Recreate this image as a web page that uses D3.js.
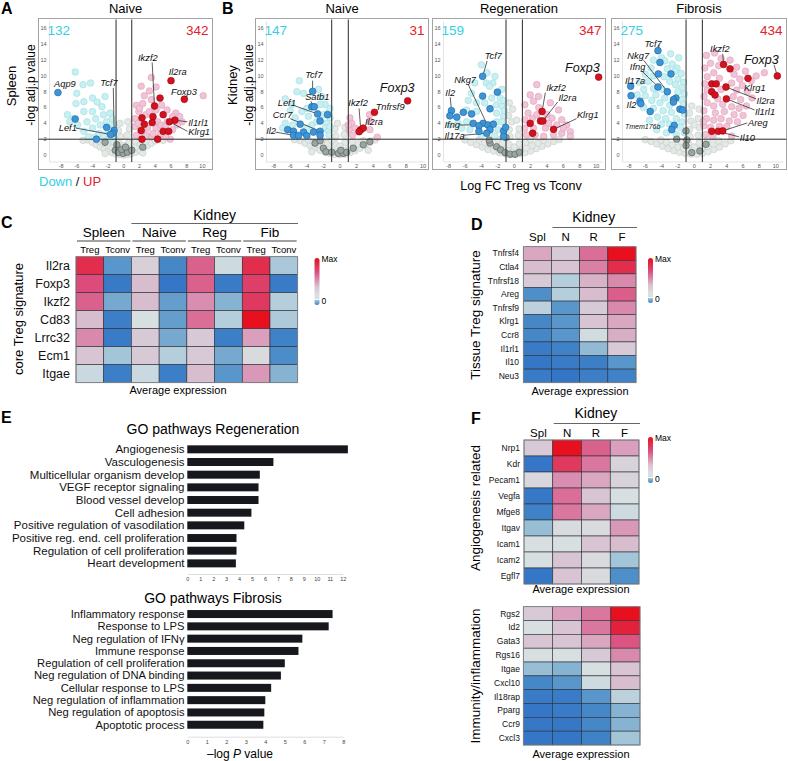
<!DOCTYPE html>
<html>
<head>
<meta charset="utf-8">
<script src="https://cdn.jsdelivr.net/npm/d3@7"></script>
<style>
  body { margin: 0; background: #fff; }
  svg { display: block; font-family: "Liberation Sans", Arial, Helvetica, sans-serif; }
</style>
</head>
<body>
<script>
// ---- volcano data: [logFC, -log adj p, group]
// g = not significant, d = dark grey, c = down, p = up, b = down highlighted, r = up highlighted
const spleenNaive = [
  [-4.6,1.9,"g"],[-4.0,1.6,"g"],[-3.5,1.3,"g"],[-3.0,1.0,"g"],[-2.5,0.7,"g"],[-2.0,0.5,"g"],[-1.5,0.3,"g"],[-1.0,0.15,"g"],
  [-0.5,0.05,"g"],[0,0,"g"],[0.5,0.05,"g"],[1.0,0.2,"g"],[1.5,0.35,"g"],[2.0,0.6,"g"],[2.5,0.9,"g"],[3.0,1.2,"g"],[3.5,1.5,"g"],
  [4.0,1.8,"g"],[-3.2,1.8,"g"],[-2.6,1.5,"g"],[-2.0,1.2,"g"],[-1.5,0.9,"g"],[-1.0,0.7,"g"],[-0.5,0.6,"g"],[0.3,0.5,"g"],
  [0.9,0.8,"g"],[1.5,1.0,"g"],[2.1,1.3,"g"],[2.7,1.7,"g"],[-1.3,1.7,"g"],[1.4,1.8,"g"],[-0.6,1.4,"g"],[0.6,1.5,"g"],
  [-0.4,2.3,"g"],[0.4,2.5,"g"],[-0.7,3.1,"g"],[0.7,3.3,"g"],[-0.5,4.0,"g"],[0.5,4.2,"g"],[0,1.2,"g"],[-2.4,0.2,"g"],
  [2.4,0.25,"g"],[-5.2,1.85,"g"],[5.0,1.85,"g"],
  [-6.2,10.5,"c"],[-5.2,8.9,"c"],[-4.25,9.1,"c"],[-6.0,7.8,"c"],[-7.2,5.1,"c"],[-6.1,6.5,"c"],[-5.1,6.75,"c"],[-4.0,7.2,"c"],
  [-3.4,6.7,"c"],[-2.4,7.4,"c"],[-2.8,6.1,"c"],[-4.0,5.5,"c"],[-5.1,5.5,"c"],[-6.4,4.6,"c"],[-6.9,4.2,"c"],[-5.9,3.8,"c"],
  [-4.7,4.2,"c"],[-3.6,4.6,"c"],[-2.6,5.1,"c"],[-1.75,5.3,"c"],[-1.5,4.6,"c"],[-2.2,4.2,"c"],[-3.0,3.8,"c"],[-4.0,3.4,"c"],
  [-5.1,3.0,"c"],[-1.3,3.8,"c"],[-2.0,3.2,"c"],[-3.2,2.7,"c"],[-4.5,2.3,"c"],[-1.3,2.7,"c"],[-2.6,2.5,"c"],[-1.2,2.2,"c"],
  [-1.8,2.1,"c"],[-3.8,2.2,"c"],
  [3.5,9.8,"p"],[2.2,8.7,"p"],[2.6,7.5,"p"],[1.6,6.3,"p"],[1.9,5.5,"p"],[3.25,8.1,"p"],[4.1,8.6,"p"],[4.8,6.3,"p"],
  [5.5,5.7,"p"],[6.6,5.3,"p"],[7.1,4.85,"p"],[10.1,7.5,"p"],[7.4,4.2,"p"],[6.8,3.8,"p"],[6.2,3.2,"p"],[5.9,2.0,"p"],
  [5.3,2.3,"p"],[4.5,2.3,"p"],[3.5,2.3,"p"],[2.8,2.5,"p"],[1.6,2.5,"p"],[1.4,3.6,"p"],[1.4,4.6,"p"],[1.8,4.0,"p"],
  [2.8,5.1,"p"],[3.25,5.5,"p"],[4.1,5.7,"p"],[4.3,4.2,"p"],[3.0,3.4,"p"],[4.1,3.4,"p"],[4.7,3.8,"p"],[5.5,4.2,"p"],
  [5.25,3.6,"p"],[6.2,4.85,"p"],[2.0,5.9,"p"],[2.4,6.5,"p"],[3.5,7.0,"p"],[2.3,3.0,"p"],[3.7,2.7,"p"],[4.7,2.7,"p"],
  [-2.4,1.6,"d"],[-0.9,1.3,"d"],[-1.1,0.6,"d"],[-0.7,0.3,"d"],[-0.1,0.2,"d"],[0.45,0.35,"d"],[1.0,0.6,"d"],[2.4,1.0,"d"],
  [-0.3,0.7,"d"],[0.2,1.0,"d"],
  [-8.4,7.9,"b"],[-6.2,4.55,"b"],[-2.2,3.5,"b"],[-1.25,3.1,"b"],[-1.4,2.75,"b"],[-1.7,2.6,"b"],[-3.5,2.0,"b"],
  [3.9,6.2,"r"],[6.0,9.4,"r"],[7.7,7.05,"r"],[4.6,7.2,"r"],[6.5,4.4,"r"],[5.8,4.2,"r"],[2.3,4.7,"r"],[3.7,4.85,"r"],
  [2.6,3.9,"r"],[3.6,4.1,"r"],[5.0,5.1,"r"],[2.2,3.1,"r"],[5.0,3.0,"r"],[5.7,3.0,"r"],[2.3,2.0,"r"],[4.3,2.0,"r"]
];

const kidneyNaive = [
  [-5.5,1.95,"g"],[-4.8,1.8,"g"],[-4.2,1.5,"g"],[-3.6,1.2,"g"],[-3.0,0.9,"g"],[-2.4,0.6,"g"],[-1.8,0.4,"g"],[-1.2,0.2,"g"],
  [-0.6,0.1,"g"],[0,0.05,"g"],[0.6,0.1,"g"],[1.2,0.3,"g"],[1.8,0.55,"g"],[2.4,0.85,"g"],[3.0,1.2,"g"],[3.6,1.6,"g"],
  [4.2,1.9,"g"],[-3.8,1.9,"g"],[-3.2,1.6,"g"],[-2.6,1.3,"g"],[-2.0,1.0,"g"],[-1.4,0.8,"g"],[-0.8,0.6,"g"],[-0.2,0.5,"g"],
  [0.4,0.6,"g"],[1.0,0.8,"g"],[1.6,1.1,"g"],[2.2,1.4,"g"],[2.8,1.8,"g"],[-2.2,1.9,"g"],[-1.5,1.5,"g"],[1.5,1.7,"g"],
  [-0.6,1.5,"g"],[0.6,1.6,"g"],[0,1.1,"g"],[-0.5,2.4,"g"],[0.5,2.6,"g"],[-0.6,3.3,"g"],[0.6,3.5,"g"],[-0.3,4.0,"g"],
  [-1.0,1.8,"g"],[3.4,0.6,"g"],[-3.4,0.4,"g"],
  [-4.9,9.4,"c"],[-5.2,8.0,"c"],[-4.4,7.8,"c"],[-2.6,8.3,"c"],[-2.2,7.4,"c"],[-1.8,6.4,"c"],[-2.4,6.4,"c"],[-6.6,7.1,"c"],
  [-5.8,6.4,"c"],[-6.0,5.6,"c"],[-4.6,5.5,"c"],[-4.0,5.9,"c"],[-3.8,4.9,"c"],[-5.4,4.7,"c"],[-6.6,4.0,"c"],[-5.7,3.8,"c"],
  [-1.6,4.0,"c"],[-1.8,3.4,"c"],[-1.4,3.0,"c"],[-1.2,3.6,"c"],[-2.0,5.1,"c"],[-2.8,4.2,"c"],[-3.4,3.8,"c"],[-4.0,3.4,"c"],
  [-1.3,2.5,"c"],[-6.9,3.4,"c"],[-1.4,5.3,"c"],[-1.2,4.7,"c"],[-1.2,5.9,"c"],
  [1.2,4.7,"p"],[1.4,4.0,"p"],[1.8,3.4,"p"],[1.1,3.2,"p"],[3.55,5.1,"p"],[3.6,4.3,"p"],[4.5,2.25,"p"],[3.6,3.2,"p"],
  [1.5,2.5,"p"],[1.0,3.8,"p"],
  [-3.0,1.5,"d"],[-2.0,0.85,"d"],[-1.7,0.4,"d"],[-1.0,0.35,"d"],[-0.2,0.2,"d"],[0.4,0.2,"d"],[0.8,0.35,"d"],[1.6,0.85,"d"],
  [2.8,1.3,"d"],[3.6,1.7,"d"],[-2.4,1.8,"d"],[0.1,0.6,"d"],
  [-3.3,8.05,"b"],[-3.4,6.1,"b"],[-3.1,6.1,"b"],[-2.7,5.2,"b"],[-1.5,5.1,"b"],[-2.4,4.3,"b"],[-4.8,3.9,"b"],[-6.3,3.2,"b"],
  [-5.6,3.0,"b"],[-4.4,2.9,"b"],[-3.2,2.9,"b"],[-2.4,3.0,"b"],[-2.4,2.5,"b"],[-5.6,2.5,"b"],[-5.0,2.45,"b"],[-4.0,2.45,"b"],
  [2.5,3.2,"r"],[2.8,3.4,"r"],[2.3,2.95,"r"],[4.15,5.4,"r"],[8.15,6.85,"r"]
];

const kidneyReg = [
  [-6.0,1.9,"g"],[-5.3,1.6,"g"],[-4.6,1.3,"g"],[-3.9,1.0,"g"],[-3.2,0.7,"g"],[-2.5,0.5,"g"],[-1.8,0.3,"g"],[-1.1,0.15,"g"],
  [-0.5,0.05,"g"],[0.1,0.05,"g"],[0.7,0.15,"g"],[1.3,0.3,"g"],[2.0,0.5,"g"],[2.7,0.8,"g"],[3.4,1.1,"g"],[4.1,1.4,"g"],
  [4.8,1.7,"g"],[5.5,1.95,"g"],[-4.3,1.9,"g"],[-3.6,1.6,"g"],[-2.9,1.3,"g"],[-2.2,1.0,"g"],[-1.5,0.8,"g"],[-0.8,0.6,"g"],
  [0,0.5,"g"],[0.8,0.7,"g"],[1.5,0.9,"g"],[2.2,1.2,"g"],[2.9,1.5,"g"],[3.6,1.85,"g"],[-2.0,1.9,"g"],[-1.4,1.5,"g"],
  [1.4,1.6,"g"],[2.0,1.95,"g"],[-0.6,1.3,"g"],[0.6,1.4,"g"],[-0.5,2.3,"g"],[0.5,2.5,"g"],[-0.6,3.2,"g"],[0.6,3.3,"g"],
  [-0.3,4.2,"g"],[0.3,4.4,"g"],[-0.7,5.0,"g"],[-0.2,5.8,"g"],[-0.6,6.6,"g"],[0,1.0,"g"],
  [-4.0,11.4,"c"],[-3.3,10.4,"c"],[-2.35,9.95,"c"],[-3.4,9.1,"c"],[-4.8,9.1,"c"],[-2.6,9.1,"c"],[-3.0,8.7,"c"],[-5.2,7.8,"c"],
  [-1.5,8.3,"c"],[-1.7,7.2,"c"],[-2.75,7.2,"c"],[-5.6,6.9,"c"],[-4.6,6.6,"c"],[-3.6,6.6,"c"],[-2.15,6.35,"c"],[-1.5,6.15,"c"],
  [-5.8,5.7,"c"],[-4.6,5.5,"c"],[-2.15,5.3,"c"],[-1.3,4.9,"c"],[-5.8,4.2,"c"],[-6.85,4.0,"c"],[-2.15,4.2,"c"],[-1.5,4.2,"c"],
  [-6.4,3.4,"c"],[-5.4,3.2,"c"],[-1.95,3.2,"c"],[-7.85,3.8,"c"],[-1.2,5.6,"c"],[-1.3,6.9,"c"],[-4.0,2.5,"c"],[-2.4,2.4,"c"],
  [2.75,8.9,"p"],[1.95,7.6,"p"],[2.95,7.4,"p"],[2.35,6.8,"p"],[4.4,6.6,"p"],[5.4,5.7,"p"],[1.3,6.35,"p"],[1.7,5.3,"p"],
  [1.3,4.45,"p"],[2.75,5.1,"p"],[4.0,5.1,"p"],[4.6,4.65,"p"],[5.8,4.45,"p"],[6.4,3.8,"p"],[6.85,2.95,"p"],[5.8,2.75,"p"],
  [4.8,2.55,"p"],[3.6,2.35,"p"],[2.55,2.55,"p"],[1.5,2.55,"p"],[1.3,3.4,"p"],[2.35,3.4,"p"],[3.8,3.4,"p"],[4.2,4.0,"p"],
  [5.2,3.8,"p"],[6.0,3.4,"p"],[6.85,2.35,"p"],[2.2,4.6,"p"],[3.0,6.0,"p"],
  [-2.95,1.5,"d"],[-2.15,1.05,"d"],[-1.65,0.65,"d"],[-1.1,0.3,"d"],[-0.5,0.1,"d"],[0.1,0.1,"d"],[0.65,0.35,"d"],
  [-1.0,2.2,"d"],[-3.05,1.9,"d"],
  [-3.85,9.95,"b"],[-3.85,7.45,"b"],[-2.05,7.95,"b"],[-7.65,5.6,"b"],[-7.85,4.95,"b"],[-6.2,5.4,"b"],[-5.2,5.2,"b"],
  [-7.0,4.8,"b"],[-2.95,5.85,"b"],[-3.8,4.0,"b"],[-5.0,4.0,"b"],[-4.3,3.7,"b"],[-3.2,3.8,"b"],[-2.55,3.9,"b"],
  [-2.95,3.2,"b"],[-4.3,3.0,"b"],[-3.35,2.75,"b"],[-1.3,3.05,"b"],[-1.3,2.35,"b"],[-1.05,3.5,"b"],
  [10.3,9.85,"r"],[3.4,5.5,"r"],[3.2,4.3,"r"],[3.5,4.3,"r"],[1.95,4.0,"r"],[4.8,3.25,"r"],[2.25,2.75,"r"]
];

const kidneyFib = [
  [-6.0,1.95,"g"],[-5.3,1.7,"g"],[-4.6,1.4,"g"],[-3.9,1.1,"g"],[-3.2,0.8,"g"],[-2.5,0.55,"g"],[-1.8,0.35,"g"],[-1.1,0.2,"g"],
  [-0.4,0.1,"g"],[0.3,0.1,"g"],[1.0,0.2,"g"],[1.7,0.4,"g"],[2.4,0.7,"g"],[3.1,1.0,"g"],[3.8,1.4,"g"],[4.5,1.8,"g"],
  [-4.1,1.9,"g"],[-3.4,1.6,"g"],[-2.7,1.3,"g"],[-2.0,1.0,"g"],[-1.3,0.8,"g"],[-0.6,0.6,"g"],[0.2,0.6,"g"],[0.9,0.8,"g"],
  [1.6,1.1,"g"],[2.3,1.4,"g"],[3.0,1.8,"g"],[-1.6,1.7,"g"],[1.6,1.9,"g"],[-0.6,1.3,"g"],[0.6,1.5,"g"],[0,1.0,"g"],
  [-0.5,2.3,"g"],[0.5,2.5,"g"],[-0.6,3.2,"g"],[0.6,3.5,"g"],[-0.4,4.3,"g"],[0.5,4.6,"g"],[-0.6,5.3,"g"],[0.6,5.8,"g"],
  [-0.3,6.2,"g"],[0,3.8,"g"],
  [-5.0,12.0,"c"],[-4.0,12.3,"c"],[-3.6,11.9,"c"],[-2.7,11.5,"c"],[-2.1,11.0,"c"],[-5.3,11.0,"c"],[-3.3,10.9,"c"],
  [-2.4,10.6,"c"],[-1.6,10.3,"c"],[-6.0,10.2,"c"],[-5.0,10.0,"c"],[-3.7,9.9,"c"],[-2.0,9.6,"c"],[-1.3,9.2,"c"],
  [-6.7,9.2,"c"],[-5.6,9.3,"c"],[-3.0,9.3,"c"],[-2.3,8.9,"c"],[-1.5,8.5,"c"],[-6.2,8.3,"c"],[-5.0,8.4,"c"],[-3.9,8.3,"c"],
  [-2.0,8.0,"c"],[-1.2,7.7,"c"],[-7.0,7.6,"c"],[-6.0,7.5,"c"],[-4.7,7.6,"c"],[-3.6,7.2,"c"],[-1.6,7.0,"c"],[-5.2,6.9,"c"],
  [-4.2,6.6,"c"],[-3.0,6.3,"c"],[-1.3,6.4,"c"],[-6.2,6.0,"c"],[-5.0,5.9,"c"],[-3.8,5.6,"c"],[-2.8,5.4,"c"],[-1.2,5.2,"c"],
  [-4.5,4.8,"c"],[-3.5,4.6,"c"],[-2.2,4.6,"c"],[-1.5,4.2,"c"],[-5.5,4.4,"c"],[-4.0,3.9,"c"],[-3.0,3.9,"c"],[-1.7,3.5,"c"],
  [-1.2,2.8,"c"],[-2.2,2.6,"c"],[-3.4,2.8,"c"],[-4.6,3.2,"c"],[-1.9,12.3,"c"],[-2.9,12.8,"c"],
  [1.5,12.6,"p"],[2.5,12.9,"p"],[3.3,12.2,"p"],[4.4,12.0,"p"],[2.0,11.6,"p"],[3.0,11.3,"p"],[1.3,11.0,"p"],[5.2,11.1,"p"],
  [6.3,10.6,"p"],[8.6,10.4,"p"],[7.6,10.0,"p"],[2.4,10.4,"p"],[4.9,10.2,"p"],[1.6,9.9,"p"],[3.1,9.7,"p"],[5.6,9.6,"p"],
  [7.0,9.4,"p"],[1.3,9.0,"p"],[4.6,9.1,"p"],[5.9,8.8,"p"],[1.6,8.2,"p"],[3.3,8.3,"p"],[5.2,8.2,"p"],[6.5,8.0,"p"],
  [1.2,7.4,"p"],[2.9,7.1,"p"],[4.8,7.4,"p"],[5.7,7.0,"p"],[7.1,7.2,"p"],[1.6,6.6,"p"],[2.4,6.2,"p"],[3.5,6.4,"p"],
  [4.6,6.1,"p"],[5.5,5.9,"p"],[6.4,6.2,"p"],[1.2,5.6,"p"],[2.6,5.3,"p"],[3.7,5.5,"p"],[4.9,5.1,"p"],[6.0,5.0,"p"],
  [1.5,4.6,"p"],[2.4,4.4,"p"],[3.3,4.6,"p"],[4.3,4.3,"p"],[5.3,4.2,"p"],[1.2,3.7,"p"],[2.0,3.5,"p"],[3.1,3.6,"p"],
  [4.0,3.6,"p"],[1.4,2.6,"p"],[2.3,2.4,"p"],[4.6,2.4,"p"],[1.1,4.2,"p"],
  [-1.0,3.05,"d"],[-2.15,2.0,"d"],[-0.9,1.9,"d"],[-1.0,1.2,"d"],[1.45,1.35,"d"],[0.7,0.5,"d"],[-0.3,0.3,"d"],
  [-4.45,13.2,"b"],[-4.2,11.7,"b"],[-4.4,10.25,"b"],[-2.85,10.25,"b"],[-7.8,8.7,"b"],[-4.45,8.6,"b"],[-3.3,8.0,"b"],
  [-7.75,7.5,"b"],[-6.65,6.8,"b"],[-6.55,6.5,"b"],[-2.25,7.2,"b"],[-2.55,7.0,"b"],[-2.55,6.7,"b"],[-1.75,5.8,"b"],
  [-1.4,5.7,"b"],[-5.4,5.5,"b"],[-2.45,3.75,"b"],[-2.75,3.2,"b"],
  [10.2,10.0,"r"],[3.6,11.45,"r"],[4.4,10.9,"r"],[6.6,9.7,"r"],[2.15,9.0,"r"],[2.7,9.0,"r"],[3.9,8.6,"r"],[2.15,8.0,"r"],
  [2.55,7.6,"r"],[3.95,7.1,"r"],[2.15,3.0,"r"],[2.95,3.0,"r"],[3.5,3.05,"r"]
];

// gene annotations: [gene, pointFC, pointP, textFC, textP, leader start or null, size]
const spleenNaiveGenes = [
  ["Aqp9", -8.4, 7.9, -8.9, 9.0, null, "n"],
  ["Tcf7", -1.25, 3.1, -3.0, 9.1, [-1.35, 8.5], "n"],
  ["Lef1", -1.7, 2.6, -8.3, 3.4, [-6.1, 3.4], "n"],
  ["Ikzf2", 3.9, 6.2, 1.8, 12.3, [3.6, 11.7], "n"],
  ["Il2ra", 6.0, 9.4, 5.7, 10.5, null, "n"],
  ["Foxp3", 7.7, 7.05, 6.0, 8.0, null, "n"],
  ["Il1rl1", 6.5, 4.4, 8.2, 4.1, [8.1, 4.2], "n"],
  ["Klrg1", 5.8, 4.2, 8.2, 2.9, [8.1, 3.0], "n"]
];
const kidneyNaiveGenes = [
  ["Tcf7", -3.3, 8.05, -4.2, 10.1, [-3.3, 9.4], "n"],
  ["Satb1", -3.2, 6.1, -4.2, 7.4, [-3.5, 6.8], "n"],
  ["Lef1", -2.7, 5.2, -7.5, 6.55, [-5.4, 6.2], "n"],
  ["Ccr7", -2.4, 3.0, -8.1, 5.1, [-6.0, 4.6], "n"],
  ["Il2", -5.6, 2.5, -8.9, 3.05, [-7.8, 2.9], "n"],
  ["Ikzf2", 2.5, 3.2, 1.0, 6.55, [2.3, 5.9], "n"],
  ["Il2ra", 2.8, 3.4, 3.0, 4.2, null, "n"],
  ["Tnfrsf9", 4.15, 5.4, 4.3, 6.1, null, "n"],
  ["Foxp3", 8.15, 6.85, 4.8, 8.5, null, "b"]
];
const kidneyRegGenes = [
  ["Tcf7", -3.85, 9.95, -3.6, 12.5, [-3.3, 11.9], "n"],
  ["Nkg7", -3.0, 3.2, -7.3, 9.5, [-5.6, 8.9], "n"],
  ["Il2", -7.65, 5.6, -8.4, 7.9, [-7.8, 7.3], "n"],
  ["Ifng", -4.8, 3.8, -8.5, 3.8, [-6.7, 3.8], "n"],
  ["Il17a", -3.35, 2.75, -8.5, 2.4, [-6.2, 2.5], "n"],
  ["Ikzf2", 3.4, 5.5, 3.9, 8.5, [3.8, 7.9], "n"],
  ["Il2ra", 3.5, 4.3, 5.4, 7.3, [5.3, 6.7], "n"],
  ["Klrg1", 4.8, 3.25, 7.65, 5.1, [7.6, 4.6], "n"],
  ["Foxp3", 10.3, 9.85, 6.2, 11.1, null, "b"]
];
const kidneyFibGenes = [
  ["Tcf7", -4.45, 13.2, -6.1, 14.1, [-4.3, 13.9], "n"],
  ["Nkg7", -3.3, 8.0, -8.2, 12.6, [-6.2, 12.0], "n"],
  ["Ifng", -4.4, 8.6, -7.9, 11.2, [-6.5, 10.7], "n"],
  ["Il17a", -7.8, 8.7, -8.5, 9.4, null, "n"],
  ["Il2", -7.75, 7.5, -8.3, 6.3, null, "n"],
  ["Tmem176b", -2.45, 3.75, -8.5, 3.55, [-3.1, 3.6], "s"],
  ["Ikzf2", 3.6, 11.45, 1.95, 13.4, [3.5, 12.8], "n"],
  ["Foxp3", 10.2, 10.0, 6.1, 12.05, [9.8, 11.4], "b"],
  ["Klrg1", 6.6, 9.7, 6.1, 8.45, null, "n"],
  ["Il2ra", 3.9, 8.6, 7.65, 6.85, [7.6, 7.1], "n"],
  ["Il1rl1", 3.95, 7.1, 7.45, 5.45, [7.4, 5.7], "n"],
  ["Areg", 3.5, 3.05, 6.6, 4.05, [6.5, 4.05], "n"],
  ["Il10", 2.85, 3.0, 5.6, 2.2, [5.5, 2.3], "n"]
];
const volcanoTitles = ["Naive", "Naive", "Regeneration", "Fibrosis"];
const downCounts = [132, 147, 159, 275];
const upCounts = [342, 31, 347, 434];
const fcTicks = [-8, -6, -4, -2, 0, 2, 4, 6, 8, 10];
const pTicks = [0, 2, 4, 6, 8, 10, 12, 14, 16];

// ---- heatmaps
const coreGenes = ["Il2ra", "Foxp3", "Ikzf2", "Cd83", "Lrrc32", "Ecm1", "Itgae"];
const coreGroups = ["Spleen", "Naive", "Reg", "Fib"];
const coreCells = ["Treg", "Tconv"];
const coreValues = [
  [0.95, 0.22, 0.56, 0.15, 0.85, 0.47, 0.95, 0.37],
  [0.9, 0.07, 0.62, 0.05, 0.85, 0.08, 0.92, 0.08],
  [0.85, 0.27, 0.62, 0.24, 0.75, 0.3, 0.93, 0.4],
  [0.62, 0.1, 0.5, 0.24, 0.82, 0.4, 1.0, 0.38],
  [0.76, 0.08, 0.58, 0.27, 0.58, 0.1, 0.7, 0.12],
  [0.6, 0.35, 0.58, 0.4, 0.58, 0.27, 0.52, 0.18],
  [0.46, 0.1, 0.46, 0.1, 0.62, 0.22, 0.72, 0.3]
];
const tissueCols = ["Spl", "N", "R", "F"];
const tissueGenes = ["Tnfrsf4", "Ctla4", "Tnfrsf18", "Areg", "Tnfrsf9", "Klrg1", "Ccr8", "Il1rl1", "Il10", "Neu3"];
const tissueValues = [
  [0.68, 0.58, 0.82, 1.0],
  [0.62, 0.6, 0.78, 0.95],
  [0.58, 0.4, 0.65, 0.76],
  [0.2, 0.4, 0.62, 0.86],
  [0.42, 0.22, 0.58, 0.76],
  [0.15, 0.22, 0.6, 0.68],
  [0.15, 0.22, 0.48, 0.66],
  [0.08, 0.12, 0.32, 0.58],
  [0.05, 0.08, 0.1, 0.22],
  [0.08, 0.04, 0.1, 0.12]
];
const angioGenes = ["Nrp1", "Kdr", "Pecam1", "Vegfa", "Mfge8", "Itgav", "Icam1", "Icam2", "Egfl7"];
const angioValues = [
  [0.58, 1.0, 0.85, 0.7],
  [0.05, 0.93, 0.8, 0.55],
  [0.53, 0.75, 0.68, 0.55],
  [0.06, 0.82, 0.6, 0.5],
  [0.12, 0.8, 0.68, 0.47],
  [0.33, 0.52, 0.52, 0.72],
  [0.5, 0.5, 0.6, 0.62],
  [0.5, 0.6, 0.52, 0.35],
  [0.05, 0.6, 0.52, 0.2]
];
const immuneGenes = ["Rgs2", "Id2", "Gata3", "Rgs16", "Itgae", "Cxcl10", "Il18rap", "Pparg", "Ccr9", "Cxcl3"];
const immuneValues = [
  [0.58, 0.7, 0.8, 1.0],
  [0.5, 0.6, 0.8, 0.97],
  [0.6, 0.6, 0.68, 0.88],
  [0.5, 0.5, 0.58, 0.76],
  [0.33, 0.3, 0.5, 0.6],
  [0.15, 0.22, 0.47, 0.62],
  [0.08, 0.08, 0.22, 0.42],
  [0.05, 0.08, 0.15, 0.3],
  [0.06, 0.06, 0.15, 0.3],
  [0.05, 0.05, 0.12, 0.35]
];

// ---- GO pathways
const goRegTerms = ["Angiogenesis", "Vasculogenesis", "Multicellular organism develop", "VEGF  receptor signaling",
  "Blood vessel develop", "Cell adhesion", "Positive regulation of vasodilation",
  "Positive reg. end. cell proliferation", "Regulation of cell proliferation", "Heart development"];
const goRegValues = [12.4, 6.65, 5.6, 5.5, 5.5, 4.95, 4.4, 3.8, 3.8, 3.75];
const goFibTerms = ["Inflammatory response", "Response to LPS", "Neg regulation of IFN\u03b3", "Immune response",
  "Regulation of cell proliferation", "Neg regulation of DNA binding", "Cellular response to LPS",
  "Neg regulation of inflammation", "Neg regulation of apoptosis", "Apoptotic process"];
const goFibValues = [7.45, 7.25, 5.9, 5.7, 5.0, 4.8, 4.3, 4.0, 3.95, 3.9];

const width = 788, height = 761;
const svg = d3.select("body").append("svg").attr("width", width).attr("height", height);

const cyan = "#36cfe6", red = "#e4202b";
const dotStyle = {
  g: ["#e4e9e6", "#c2ccc7"], d: ["#9aa4a0", "#4f5a56"], c: ["#c9eff1", "#98dde2"],
  p: ["#f1c3d6", "#e09dba"], b: ["#3d95d5", "#1b65a5"], r: ["#d3121e", "#960810"]
};
const drawOrder = ["g", "c", "p", "d", "b", "r"];

// panel letters
[["A", 1, 14], ["B", 222, 14], ["C", 1, 228], ["D", 471, 230], ["E", 1, 423], ["F", 471, 424]].forEach(([t, x, y]) =>
  svg.append("text").attr("x", x).attr("y", y).attr("font-size", 16).attr("font-weight", "bold").text(t));

// ---- volcano plots
const frames = [
  { left: 38.5, w: 174, zero: 123.9, unit: 7.85, pts: spleenNaive, genes: spleenNaiveGenes },
  { left: 255.5, w: 173, zero: 340, unit: 8.3, pts: kidneyNaive, genes: kidneyNaiveGenes },
  { left: 432.5, w: 173, zero: 514.2, unit: 8.2, pts: kidneyReg, genes: kidneyRegGenes },
  { left: 611.5, w: 175, zero: 694.2, unit: 8.15, pts: kidneyFib, genes: kidneyFibGenes }
];
const frameTop = 18.5, frameH = 151;

frames.forEach((f, i) => {
  const g = svg.append("g");
  const x = d3.scaleLinear().domain([-8, 10]).range([f.zero - 8 * f.unit, f.zero + 10 * f.unit]);
  const y = d3.scaleLinear().domain([0, 16]).range([155, 28.5]);
  const right = f.left + f.w;

  g.append("rect").attr("x", f.left).attr("y", frameTop).attr("width", f.w).attr("height", frameH)
    .attr("fill", "#fff").attr("stroke", "#a3a3a3").attr("stroke-width", 1);
  g.append("line").attr("x1", f.left + 11).attr("x2", f.left + 11).attr("y1", frameTop + 3).attr("y2", 162)
    .attr("stroke", "#e3e3e3");
  g.append("line").attr("x1", f.left + 11).attr("x2", right - 3).attr("y1", 162).attr("y2", 162)
    .attr("stroke", "#e3e3e3");

  g.selectAll(".yt").data(pTicks).join("text")
    .attr("x", f.left + 8).attr("y", d => y(d)).attr("dy", "0.35em").attr("text-anchor", "end")
    .attr("font-size", 5.5).attr("fill", "#555").text(d => d);
  g.selectAll(".xt").data(fcTicks).join("text")
    .attr("x", d => x(d)).attr("y", 166.5).attr("dy", "0.35em").attr("text-anchor", "middle")
    .attr("font-size", 5.5).attr("fill", "#555").text(d => d);

  const bg = f.pts.filter(d => "gcpd".includes(d[2]))
    .sort((a, b) => drawOrder.indexOf(a[2]) - drawOrder.indexOf(b[2]));
  g.selectAll(".bg").data(bg).join("circle")
    .attr("cx", d => x(d[0])).attr("cy", d => y(d[1])).attr("r", 3.3)
    .attr("fill", d => dotStyle[d[2]][0]).attr("stroke", d => dotStyle[d[2]][1]).attr("stroke-width", 0.6);

  // thresholds
  [-1, 1].forEach(v => g.append("line").attr("x1", x(v)).attr("x2", x(v)).attr("y1", frameTop + 1).attr("y2", 162)
    .attr("stroke", "#2a2a2a").attr("stroke-width", 1));
  g.append("line").attr("x1", f.left).attr("x2", right).attr("y1", y(2)).attr("y2", y(2))
    .attr("stroke", "#2a2a2a").attr("stroke-width", 1);

  // leader lines
  g.selectAll(".lead").data(f.genes.filter(d => d[5])).join("line")
    .attr("x1", d => x(d[5][0])).attr("y1", d => y(d[5][1]))
    .attr("x2", d => x(d[1])).attr("y2", d => y(d[2]))
    .attr("stroke", "#1a1a1a").attr("stroke-width", 0.7);

  const hi = f.pts.filter(d => d[2] === "b" || d[2] === "r");
  g.selectAll(".hi").data(hi).join("circle")
    .attr("cx", d => x(d[0])).attr("cy", d => y(d[1])).attr("r", 3.4)
    .attr("fill", d => dotStyle[d[2]][0]).attr("stroke", d => dotStyle[d[2]][1]).attr("stroke-width", 0.6);

  g.selectAll(".gene").data(f.genes).join("text")
    .attr("x", d => x(d[3])).attr("y", d => y(d[4])).attr("dy", "0.35em")
    .attr("font-style", "italic")
    .attr("font-size", d => d[6] === "b" ? 12.5 : d[6] === "s" ? 7 : 9.3)
    .attr("fill", "#111").text(d => d[0]);

  g.append("text").attr("x", f.left + 9).attr("y", frameTop + 16.5).attr("font-size", 13.5)
    .attr("fill", cyan).text(downCounts[i]);
  g.append("text").attr("x", right - 4).attr("y", frameTop + 16.5).attr("font-size", 13.5)
    .attr("text-anchor", "end").attr("fill", red).text(upCounts[i]);
  g.append("text").attr("x", f.left + f.w / 2).attr("y", 13).attr("font-size", 13)
    .attr("text-anchor", "middle").text(volcanoTitles[i]);
});

// side titles for volcano panels
const vLabel = (text, x, y, size) => svg.append("text")
  .attr("transform", `translate(${x},${y}) rotate(-90)`)
  .attr("text-anchor", "middle").attr("dy", "0.35em").attr("font-size", size).text(text);
vLabel("Spleen", 11, 86, 13);
vLabel("-log adj.p value", 31, 85, 12);
vLabel("Kidney", 232, 85, 13);
vLabel("-log adj.p value", 249, 85, 12);

const du = svg.append("text").attr("x", 39).attr("y", 186).attr("font-size", 13);
du.append("tspan").attr("fill", cyan).text("Down");
du.append("tspan").attr("fill", "#111").text(" / ");
du.append("tspan").attr("fill", red).text("UP");
svg.append("text").attr("x", 521).attr("y", 190).attr("text-anchor", "middle").attr("font-size", 12.5)
  .text("Log FC Treg vs Tconv");

// ---- heatmap helpers
const heat = d3.scaleLinear()
  .domain([0, 0.2, 0.35, 0.5, 0.6, 0.75, 0.9, 1])
  .range(["#2c6ec5", "#4e8fc9", "#a3c5d8", "#d8dfe1", "#d8c4d3", "#d98db0", "#dc4b7b", "#e80f1f"]);

const defs = svg.append("defs");
const grad = defs.append("linearGradient").attr("id", "heatbar").attr("x1", 0).attr("x2", 0).attr("y1", 0).attr("y2", 1);
[[0, "#e3101e"], [0.3, "#dc4f80"], [0.62, "#d9c5d4"], [0.8, "#dfe0e2"], [0.86, "#d6dde2"],
 [0.88, "#ffffff"], [0.9, "#9cc1da"], [1, "#3e84c3"]]
  .forEach(([o, c]) => grad.append("stop").attr("offset", o).attr("stop-color", c));

function heatmap(g, genes, cols, values, box, labelSize, labelX) {
  const x = d3.scaleBand().domain(d3.range(cols)).range([box.x0, box.x1]);
  const y = d3.scaleBand().domain(genes).range([box.y0, box.y1]);
  const cells = values.flatMap((row, i) => row.map((v, j) => ({ gene: genes[i], col: j, v })));
  g.selectAll(null).data(cells).join("rect")
    .attr("x", d => x(d.col)).attr("y", d => y(d.gene))
    .attr("width", x.bandwidth()).attr("height", y.bandwidth())
    .attr("fill", d => heat(d.v)).attr("stroke", "#2b2f36").attr("stroke-width", 0.6);
  g.append("rect").attr("x", box.x0).attr("y", box.y0).attr("width", box.x1 - box.x0).attr("height", box.y1 - box.y0)
    .attr("fill", "none").attr("stroke", "#8b8f94").attr("stroke-width", 0.8);
  g.selectAll(null).data(genes).join("text")
    .attr("x", labelX).attr("y", d => y(d) + y.bandwidth() / 2).attr("dy", "0.35em")
    .attr("text-anchor", "end").attr("font-size", labelSize).attr("fill", "#111").text(d => d);
  return x;
}

function colorBar(g, x, y0, y1) {
  g.append("rect").attr("x", x).attr("y", y0).attr("width", 5).attr("height", y1 - y0)
    .attr("rx", 2.5).attr("fill", "url(#heatbar)");
  g.append("text").attr("x", x + 7).attr("y", y0 + 4).attr("font-size", 8.5).text("Max");
  g.append("text").attr("x", x + 7).attr("y", y1 - 1).attr("font-size", 8.5).text("0");
}

// ---- panel C
const gC = svg.append("g");
const xC = heatmap(gC, coreGenes, 8, coreValues, { x0: 76, x1: 297.7, y0: 256.7, y1: 382.7 }, 12.5, 70);
const step = xC.step();
coreGroups.forEach((grp, k) => {
  const cx = xC(2 * k) + step;
  gC.append("text").attr("x", cx).attr("y", 237).attr("text-anchor", "middle").attr("font-size", 13.5).text(grp);
  gC.append("line").attr("x1", xC(2 * k) + 1).attr("x2", xC(2 * k) + 2 * step - 1).attr("y1", 241).attr("y2", 241)
    .attr("stroke", "#444").attr("stroke-width", 1);
  coreCells.forEach((c, m) => gC.append("text").attr("x", xC(2 * k + m) + step / 2).attr("y", 252.5)
    .attr("text-anchor", "middle").attr("font-size", 9.5).text(c));
});
gC.append("text").attr("x", (xC(2) + 297.7) / 2).attr("y", 220).attr("text-anchor", "middle")
  .attr("font-size", 14).text("Kidney");
gC.append("line").attr("x1", xC(2)).attr("x2", 298).attr("y1", 223.5).attr("y2", 223.5)
  .attr("stroke", "#666").attr("stroke-width", 1.2);
colorBar(gC, 314.5, 258, 305);
vLabel("core Treg signature", 18, 319, 13);
gC.append("text").attr("x", 178).attr("y", 394).attr("text-anchor", "middle").attr("font-size", 11)
  .text("Average expression");

// ---- panel D and F headers
function kidneyHeader(g, x, baseY) {
  g.append("text").attr("x", (x(1) + x(3) + x.bandwidth()) / 2).attr("y", baseY).attr("text-anchor", "middle")
    .attr("font-size", 14).text("Kidney");
  g.append("line").attr("x1", x(1) + 1).attr("x2", x(3) + x.bandwidth() + 1).attr("y1", baseY + 5.5).attr("y2", baseY + 5.5)
    .attr("stroke", "#666").attr("stroke-width", 1.2);
  g.selectAll(null).data(tissueCols).join("text")
    .attr("x", (d, i) => x(i) + x.bandwidth() / 2).attr("y", baseY + 18.5)
    .attr("text-anchor", "middle").attr("font-size", 11.5).text(d => d);
}

const gD = svg.append("g");
const xD = heatmap(gD, tissueGenes, 4, tissueValues, { x0: 523.3, x1: 636, y0: 246.7, y1: 382.7 }, 8.5, 519);
kidneyHeader(gD, xD, 222);
colorBar(gD, 648, 258, 303);
vLabel("Tissue Treg signature", 475, 315, 13.5);
gD.append("text").attr("x", 580).attr("y", 395).attr("text-anchor", "middle").attr("font-size", 11)
  .text("Average expression");

const gF = svg.append("g");
const xF = heatmap(gF, angioGenes, 4, angioValues, { x0: 524, x1: 639, y0: 440, y1: 584 }, 8.5, 520);
kidneyHeader(gF, xF, 418);
colorBar(gF, 648, 437, 483);
vLabel("Angiogenesis related", 475, 508, 13.5);
gF.append("text").attr("x", 581).attr("y", 593).attr("text-anchor", "middle").attr("font-size", 11)
  .text("Average expression");
heatmap(gF, immuneGenes, 4, immuneValues, { x0: 523.3, x1: 640, y0: 606.7, y1: 745 }, 8.5, 520);
vLabel("Immunity/inflammation", 475, 676, 13.5);
gF.append("text").attr("x", 581).attr("y", 758).attr("text-anchor", "middle").attr("font-size", 11)
  .text("Average expression");

// ---- panel E
function goBars(terms, values, opts) {
  const g = svg.append("g");
  const x = d3.scaleLinear().domain([0, opts.max]).range([187.3, opts.xMax]);
  const y = d3.scaleBand().domain(terms).range([opts.y0, opts.y1]).paddingInner(opts.pad).paddingOuter(opts.pad / 2);
  g.append("text").attr("x", 213).attr("y", opts.titleY).attr("text-anchor", "middle").attr("font-size", 14)
    .text(opts.title);
  g.selectAll(null).data(terms).join("rect")
    .attr("x", x(0)).attr("y", d => y(d)).attr("width", (d, i) => x(values[i]) - x(0)).attr("height", y.bandwidth())
    .attr("fill", "#16181d");
  g.selectAll(null).data(terms).join("text")
    .attr("x", 184.5).attr("y", d => y(d) + y.bandwidth() / 2).attr("dy", "0.35em")
    .attr("text-anchor", "end").attr("font-size", opts.fs).attr("fill", "#111").text(d => d);
  const ax = g.append("g").attr("transform", `translate(0,${opts.axisY})`)
    .call(d3.axisBottom(x).tickValues(d3.range(0, opts.max + 1)).tickSize(0).tickPadding(3));
  ax.select(".domain").attr("stroke", "#dedede");
  ax.selectAll("text").attr("font-size", 5.5).attr("fill", "#444").attr("font-family", "inherit");
}
goBars(goRegTerms, goRegValues, { max: 12, xMax: 342.7, y0: 443, y1: 569.7, pad: 0.37, fs: 11.5,
  title: "GO pathways Regeneration", titleY: 434, axisY: 574 });
goBars(goFibTerms, goFibValues, { max: 8, xMax: 343.3, y0: 607.9, y1: 730.9, pad: 0.35, fs: 11.2,
  title: "GO pathways Fibrosis", titleY: 603, axisY: 736.7 });

const lp = svg.append("text").attr("x", 240).attr("y", 758).attr("text-anchor", "middle").attr("font-size", 12);
lp.append("tspan").text("\u2013log ");
lp.append("tspan").attr("font-style", "italic").text("P");
lp.append("tspan").text(" value");
</script>
</body>
</html>
